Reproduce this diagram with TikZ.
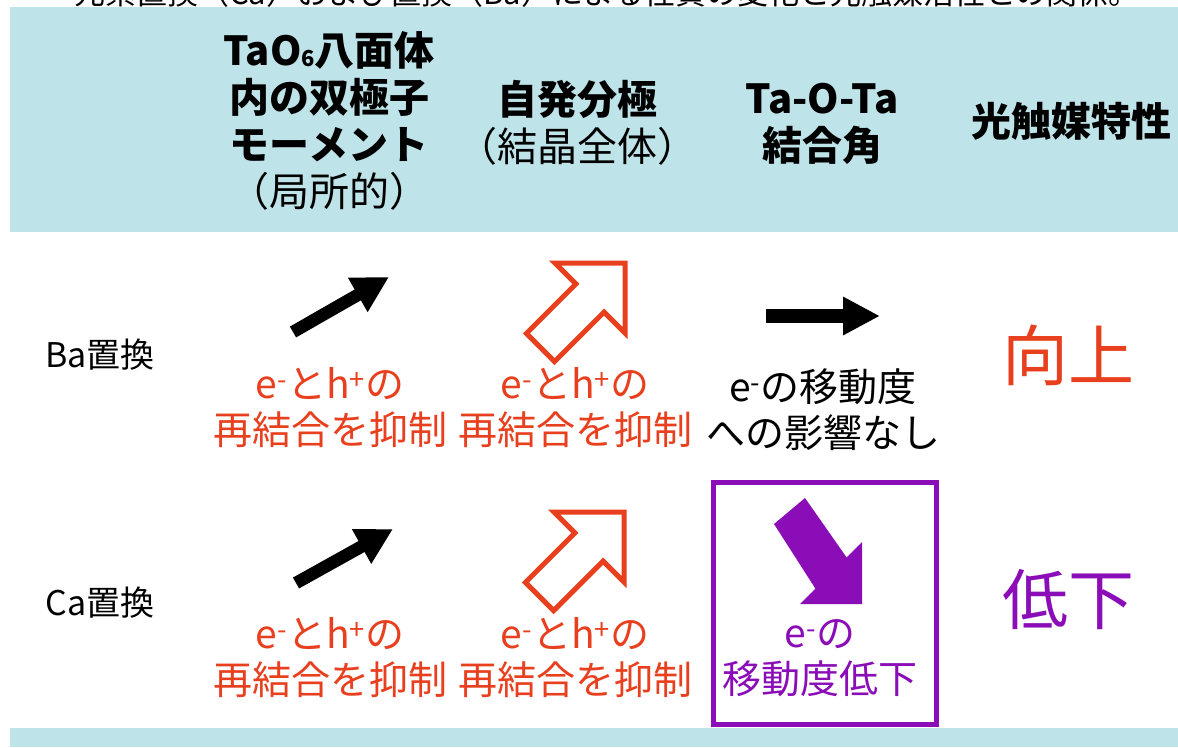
\documentclass[tikz,border=0pt]{standalone}
\usepackage{fontspec}
\setmainfont{Noto Sans CJK JP}
\usetikzlibrary{arrows.meta}
\definecolor{band}{HTML}{BEE3E8}
\definecolor{rd}{HTML}{E8401E}
\definecolor{pp}{HTML}{8A0DB8}
\tikzset{
  hdr/.style={font=\bfseries\fontsize{40}{47}\selectfont, align=center, inner sep=0pt},
  lbl/.style={font=\fontsize{34}{40}\selectfont, inner sep=0pt},
  body/.style={font=\fontsize{39}{46}\selectfont, align=center, inner sep=0pt},
  big/.style={font=\fontsize{66}{70}\selectfont, inner sep=0pt},
  thinarrow/.style={line width=12.5pt, -{Triangle[length=36pt,width=37pt]}},
  hollowarrow/.pic={\draw[rd, line width=5pt, line join=miter]
     (0,0) -- (-70,0) -- (-49.1,20.9) -- (-98.6,70.4) -- (-70.4,98.6)
     -- (-20.9,49.1) -- (0,70) -- cycle;}
}
\begin{document}
\begin{tikzpicture}[x=1pt,y=-1pt]
\useasboundingbox (0,0) rectangle (1178,747);
\fill[white] (0,0) rectangle (1178,747);
% caption (cut off at the top)
\begin{scope}
\clip (0,0) rectangle (1178,7);
\node[font=\fontsize{31}{31}\selectfont, anchor=base, inner sep=0pt] (cap) at (607,4)
  {元素置換（Ca）および置換（Ba）による性質の変化と光触媒活性との関係。};
\end{scope}
% bands
\fill[band] (10,7) rectangle (1178,232);
\fill[band] (10,728) rectangle (1178,747);
% header
\node[hdr] (h1) at (329,121) {TaO\raisebox{-1pt}{\fontsize{22}{22}\selectfont 6}八面体\\内の双極子\\モーメント\\{\mdseries （局所的）}};
\node[hdr] (h2) at (577,123) {自発分極\\{\mdseries （結晶全体）}};
\node[hdr] (h3) at (822,124) {Ta-O-Ta\\結合角};
\node[hdr] (h4) at (1071,121) {光触媒特性};
% row labels
\node[lbl] (ba) at (100,355) {Ba置換};
\node[lbl] (ca) at (100,603) {Ca置換};
% row 1
\coordinate (a1s) at (293,332);
\coordinate (a1e) at (389,277);
\draw[thinarrow] (a1s) -- (a1e);
\pic at (625,263) {hollowarrow};
\coordinate (a3s) at (766,316);
\coordinate (a3e) at (880,316);
\draw[line width=14pt, -{Triangle[length=37pt,width=36pt]}] (a3s) -- (a3e);
\node[body, rd] (r1c1) at (330,408) {e\textsuperscript{-}とh\textsuperscript{+}の\\再結合を抑制};
\node[body, rd] (r1c2) at (575,408) {e\textsuperscript{-}とh\textsuperscript{+}の\\再結合を抑制};
\node[body] (r1c3) at (823,410) {e\textsuperscript{-}の移動度\\への影響なし};
\node[big, rd] (r1c4) at (1068,355) {向上};
% row 2
\coordinate (b1s) at (296,583);
\coordinate (b1e) at (393,529);
\draw[thinarrow] (b1s) -- (b1e);
\pic at (624,512) {hollowarrow};
\draw[pp, line width=5pt] (713,482) rectangle (936,724);
\fill[pp] (862,604) -- (800,604) -- (815.4,588.6) -- (774,524) -- (805,498)
  -- (846.6,557.4) -- (862,542) -- cycle;
\node[body, rd] (r2c1) at (330,658) {e\textsuperscript{-}とh\textsuperscript{+}の\\再結合を抑制};
\node[body, rd] (r2c2) at (575,658) {e\textsuperscript{-}とh\textsuperscript{+}の\\再結合を抑制};
\node[body, pp] (r2c3) at (820,658) {e\textsuperscript{-}の\\移動度低下};
\node[big, pp] (r2c4) at (1068,600) {低下};
\end{tikzpicture}
\end{document}
